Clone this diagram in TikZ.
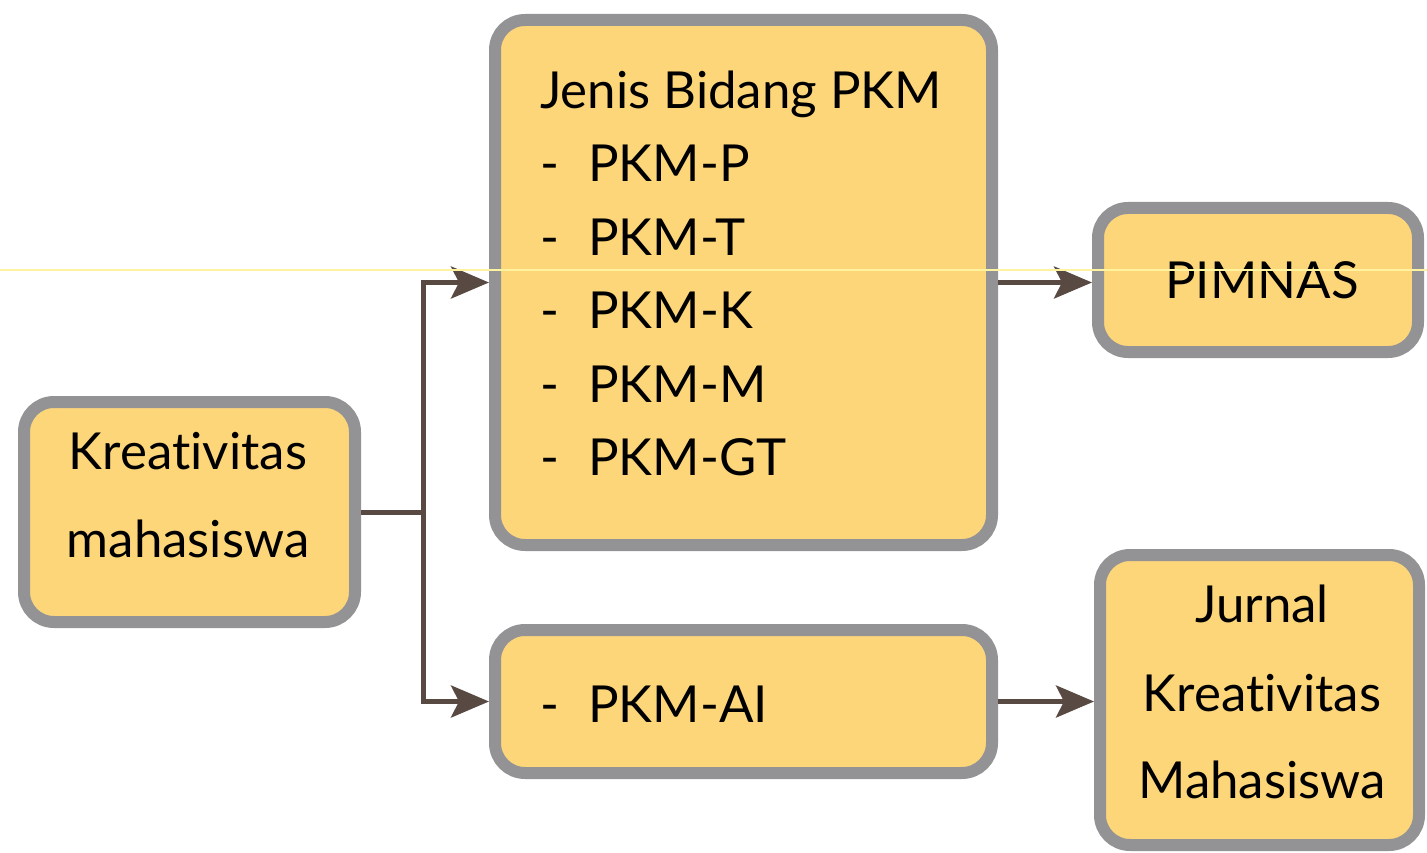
\documentclass[tikz,border=0pt]{standalone}
\usepackage{fontspec}
\setmainfont{Lato}[Ligatures={NoCommon}]
\usetikzlibrary{arrows.meta}
\definecolor{boxfill}{RGB}{253,214,122}
\definecolor{boxline}{RGB}{147,147,150}
\definecolor{arr}{RGB}{88,74,67}
\definecolor{faint}{RGB}{255,243,160}
\begin{document}
\begin{tikzpicture}[x=1pt,y=-1pt,
  box/.style={draw=boxline, line width=12pt, fill=boxfill, rounded corners=30pt, inner sep=0pt},
  lbl/.style={font=\fontsize{51}{60}\selectfont, inner sep=0pt, text=black},
  conn/.style={draw=arr, line width=5pt, -{Stealth[length=38pt,width=32pt,inset=8pt]}},
  plain/.style={draw=arr, line width=5pt}]
\useasboundingbox (0,0) rectangle (1427,853);
% boxes
\node[box, minimum width=331pt, minimum height=220pt] (A) at (189.5,512) {};
\node[box, minimum width=497pt, minimum height=525pt] (B) at (743.5,282.5) {};
\node[box, minimum width=320pt, minimum height=144pt] (C) at (1258,280) {};
\node[box, minimum width=497pt, minimum height=143pt] (D) at (743.5,701.5) {};
\node[box, minimum width=319pt, minimum height=290pt] (E) at (1259.5,700) {};
% texts
\node[lbl, anchor=base] (a1) at (188,469) {Kreativitas};
\node[lbl, anchor=base] (a2) at (188,557) {mahasiswa};
\node[lbl, anchor=base west] (b0) at (540,109) {Jenis Bidang PKM};
\node[lbl, anchor=base west] (b1d) at (540,182) {-};
\node[lbl, anchor=base west] (b1) at (588,182) {PKM-P};
\node[lbl, anchor=base west] (b2d) at (540,255) {-};
\node[lbl, anchor=base west] (b2) at (588,255) {PKM-T};
\node[lbl, anchor=base west] (b3d) at (540,328) {-};
\node[lbl, anchor=base west] (b3) at (588,328) {PKM-K};
\node[lbl, anchor=base west] (b4d) at (540,402) {-};
\node[lbl, anchor=base west] (b4) at (588,402) {PKM-M};
\node[lbl, anchor=base west] (b5d) at (540,475) {-};
\node[lbl, anchor=base west] (b5) at (588,475) {PKM-GT};
\node[lbl, anchor=base] (c1) at (1262,298) {PIMNAS};
\node[lbl, anchor=base west] (d1d) at (540,722) {-};
\node[lbl, anchor=base west] (d1) at (588,722) {PKM-AI};
\node[lbl, anchor=base] (e1) at (1262,622) {Jurnal};
\node[lbl, anchor=base] (e2) at (1262,711) {Kreativitas};
\node[lbl, anchor=base] (e3) at (1262,798) {Mahasiswa};
% connectors
\coordinate (split) at (423,512);
\draw[plain] (A.east) -- (split);
\draw[conn] (split) |- (B.west);
\draw[conn] (split) |- (D.west);
\draw[conn] (B.east) -- (B.east -| C.west);
\draw[conn] (D.east) -- (D.east -| E.west);
% faint artifact line
\coordinate (fl) at (0,270);
\coordinate (fr) at (1427,270);
\draw[faint, line width=1.5pt] (fl) -- (fr);
\end{tikzpicture}
\end{document}
